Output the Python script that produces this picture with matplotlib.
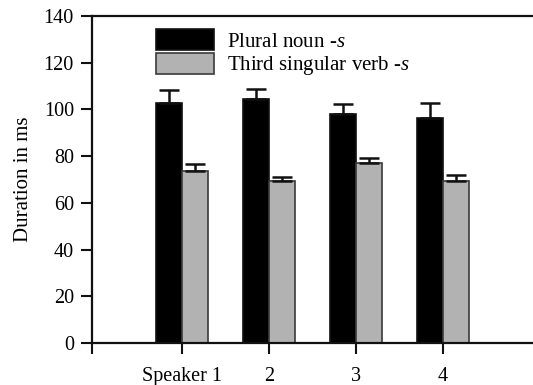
import matplotlib
matplotlib.use("Agg")
import matplotlib.pyplot as plt
from matplotlib.patches import Patch
import numpy as np

plt.rcParams['font.family'] = ['Liberation Serif', 'DejaVu Serif']
plt.rcParams['mathtext.fontset'] = 'custom'
plt.rcParams['mathtext.rm'] = 'Liberation Serif'
plt.rcParams['mathtext.it'] = 'Liberation Serif:italic'

speakers = ['Speaker 1', '2', '3', '4']
plural_noun = [102.6, 104.3, 98.2, 96.3]
plural_err = [5.8, 4.6, 4.1, 6.3]
third_verb = [73.6, 69.3, 76.9, 69.3]
third_err = [2.9, 1.9, 2.3, 2.7]
series_labels = ['Plural noun -$s$', 'Third singular verb -$s$']
y_ticks = [0, 20, 40, 60, 80, 100, 120, 140]

fig = plt.figure(figsize=(5.33, 3.85), dpi=100)
ax = fig.add_axes([92/533, 1 - 343/385, 1 - 92/533, (343 - 16)/385])

x = np.arange(len(speakers))
w = 0.29
off = 0.15
black = '#000000'
gray = '#b2b2b2'

ax.bar(x - off, plural_noun, w, color=black, edgecolor='#111111', linewidth=1.2, zorder=2)
ax.bar(x + off, third_verb, w, color=gray, edgecolor='#3a3a3a', linewidth=1.2, zorder=2)
ax.errorbar(x - off, plural_noun, yerr=[np.zeros(4), plural_err], fmt='none',
            ecolor='#111111', elinewidth=1.8, capsize=7.5, capthick=1.8, zorder=3)
ax.errorbar(x + off, third_verb, yerr=[np.zeros(4), third_err], fmt='none',
            ecolor='#111111', elinewidth=1.8, capsize=7.5, capthick=1.8, zorder=3)

left = -1.035
right = 3 + 1.035
ax.set_xlim(left, right)
ax.set_ylim(0, 140)
ax.set_xticks([left] + list(x))
ax.set_xticklabels([''] + speakers, fontsize=14.5)
ax.set_yticks(y_ticks)
ax.set_yticklabels([str(v) for v in y_ticks], fontsize=14.5)
ax.tick_params(axis='both', direction='out', length=8, width=1.5, color='#111111', pad=5)
ax.tick_params(axis='x', pad=9)

for s in ['left', 'top', 'bottom']:
    ax.spines[s].set_linewidth(1.6)
    ax.spines[s].set_color('#111111')
ax.spines['right'].set_visible(False)

ax.set_ylabel('Duration in ms', fontsize=15, labelpad=8)

handles = [Patch(facecolor=black, edgecolor='#111111', linewidth=1.2),
           Patch(facecolor=gray, edgecolor='#3a3a3a', linewidth=1.2)]
ax.legend(handles, series_labels, loc='upper left', bbox_to_anchor=(0.111, 1.005),
          frameon=False, fontsize=15, handlelength=2.83, handleheight=1.2,
          labelspacing=0.05, handletextpad=0.6, borderpad=0.2)

fig.savefig('out.png', dpi=100)
